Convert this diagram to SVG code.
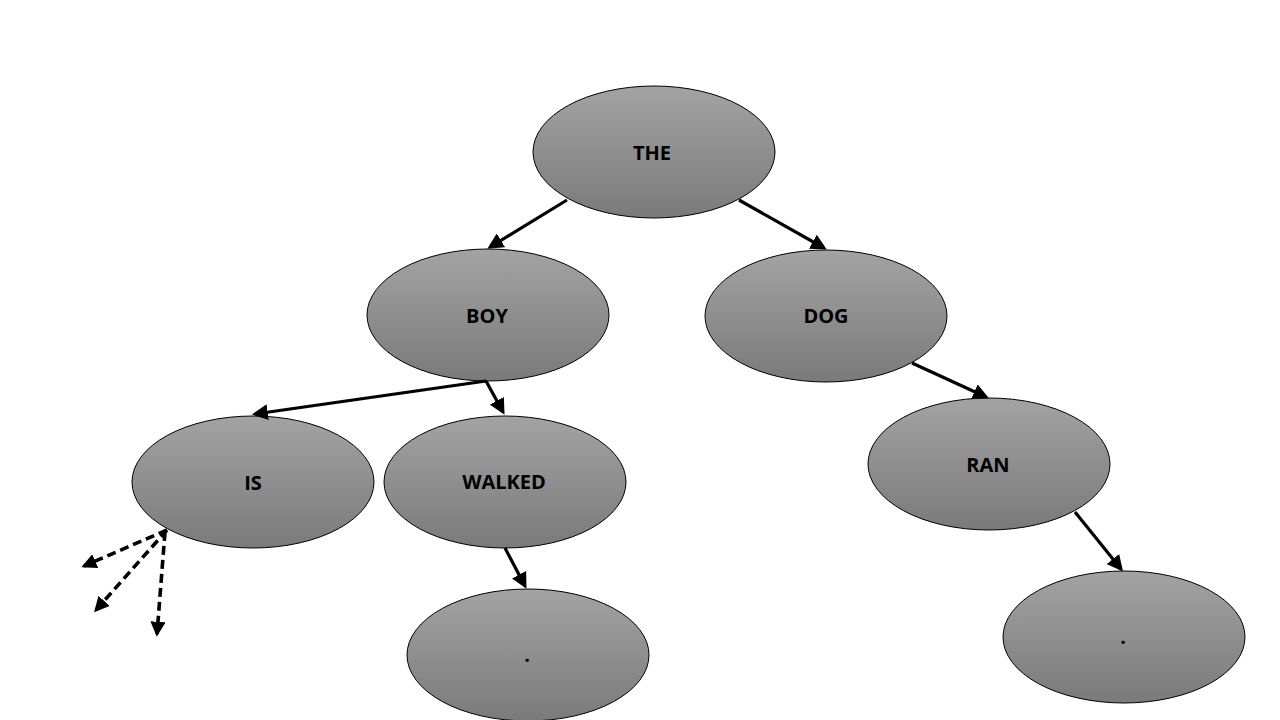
<svg xmlns="http://www.w3.org/2000/svg" width="1280" height="720" viewBox="0 0 1280 720">
<defs>
<linearGradient id="g" x1="0" y1="0" x2="0" y2="1">
<stop offset="0" stop-color="#a3a3a3"/>
<stop offset="1" stop-color="#7a7a7a"/>
</linearGradient>
<marker id="ah" markerWidth="5" markerHeight="5" refX="4" refY="2.5" orient="auto" markerUnits="strokeWidth">
<path d="M0,0 L5,2.5 L0,5 Z" fill="#000"/>
</marker>
<marker id="ahd" markerWidth="4.2" markerHeight="4.2" refX="3.4" refY="2.1" orient="auto" markerUnits="strokeWidth">
<path d="M0,0 L4.2,2.1 L0,4.2 Z" fill="#000"/>
</marker>
<style>
.n ellipse{fill:url(#g);stroke:#000;stroke-width:1}
.n text{font-family:"Open Sans","Liberation Sans",sans-serif;font-weight:bold;font-size:20px;fill:#000;text-anchor:middle;dominant-baseline:central}
.c line{stroke:#000;stroke-width:3.2;marker-end:url(#ah)}
.c .d{stroke-width:3.6;stroke-dasharray:9,5;marker-end:url(#ahd)}
</style>
</defs>
<rect width="1280" height="720" fill="#fff"/>
<g id="THE" class="n"><ellipse cx="654" cy="152" rx="121" ry="66"/><text x="652" y="152">THE</text></g>
<g id="BOY" class="n"><ellipse cx="488" cy="315" rx="121" ry="66"/><text x="487" y="315">BOY</text></g>
<g id="DOG" class="n"><ellipse cx="826" cy="316" rx="121" ry="66"/><text x="826" y="315">DOG</text></g>
<g id="IS" class="n"><ellipse cx="253" cy="482" rx="121" ry="66"/><text x="253" y="482">IS</text></g>
<g id="WALKED" class="n"><ellipse cx="505" cy="482" rx="121" ry="66"/><text x="504" y="481">WALKED</text></g>
<g id="RAN" class="n"><ellipse cx="989" cy="464" rx="121" ry="66"/><text x="988" y="464">RAN</text></g>
<g id="DOT1" class="n"><ellipse cx="528" cy="655" rx="121" ry="66"/><text x="527" y="654">.</text></g>
<g id="DOT2" class="n"><ellipse cx="1124" cy="637" rx="121" ry="66"/><text x="1123" y="636">.</text></g>
<g id="connectors" class="c">
<line x1="567" y1="200" x2="490" y2="247"/>
<line x1="739" y1="200" x2="824" y2="248"/>
<line x1="486" y1="381" x2="255" y2="414"/>
<line x1="486" y1="381" x2="503" y2="412"/>
<line x1="912" y1="363" x2="986" y2="397"/>
<line x1="505" y1="548" x2="525" y2="586"/>
<line x1="1075" y1="512" x2="1121" y2="569"/>
<line class="d" x1="167" y1="530" x2="84" y2="566"/>
<line class="d" x1="167" y1="530" x2="96" y2="610"/>
<line class="d" x1="165" y1="532" x2="157" y2="634"/>
</g>
</svg>
